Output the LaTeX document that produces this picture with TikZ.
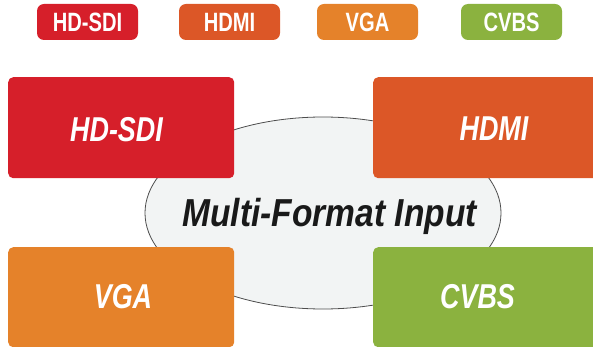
\documentclass[tikz,border=0pt]{standalone}
\usepackage{fontspec}
\usepackage{tikz}
\usepackage{xcolor}
\usetikzlibrary{shapes.geometric}
\setmainfont{Liberation Sans}
\newfontfamily\pillfont{Liberation Sans}[FakeStretch=0.76]
\newfontfamily\boxfont{Liberation Sans}[FakeStretch=0.78]
\newfontfamily\hubfont{Liberation Sans}[FakeStretch=0.86]
\definecolor{sdired}{HTML}{D61F2A}
\definecolor{hdmiorange}{HTML}{DC5727}
\definecolor{vgaorange}{HTML}{E5822A}
\definecolor{cvbsgreen}{HTML}{8BB23F}
\definecolor{hubfill}{HTML}{F2F4F4}
\definecolor{hubline}{HTML}{4D4D4D}
\begin{document}
\begin{tikzpicture}[x=1pt, y=-1pt,
  pill/.style={rounded corners=7pt, minimum width=101pt, minimum height=36pt, inner sep=0pt,
    text=white, font=\pillfont\bfseries\fontsize{26.5}{30}\selectfont},
  bigbox/.style={rounded corners=5pt, anchor=north west, inner sep=0pt},
  biglabel/.style={text=white, inner sep=0pt, font=\boxfont\bfseries\itshape\fontsize{34.5}{38}\selectfont}]
 \useasboundingbox (0,0) rectangle (593,347);
 % legend pills
 \node[pill, fill=sdired] (sdipill) at (87.5,22) {HD-SDI};
 \node[pill, fill=hdmiorange] (hdmipill) at (229.5,22) {HDMI};
 \node[pill, fill=vgaorange] (vgapill) at (367.5,22) {VGA};
 \node[pill, fill=cvbsgreen] (cvbspill) at (511.5,22) {CVBS};
 % hub
 \node[ellipse, draw=hubline, fill=hubfill, line width=0.8pt, minimum width=356pt, minimum height=192pt, inner sep=0pt] (hub) at (323,213) {};
 \node[anchor=base, text=black!90, inner sep=0pt, font=\hubfont\bfseries\itshape\fontsize{39}{42}\selectfont] (hublabel) at (329.5,226) {Multi-Format Input};
 % the four boxes
 \node[bigbox, fill=sdired, minimum width=226pt, minimum height=101pt] (sdibox) at (8,77) {};
 \node[bigbox, fill=hdmiorange, minimum width=242pt, minimum height=101pt] (hdmibox) at (373,77) {};
 \node[bigbox, fill=vgaorange, minimum width=226pt, minimum height=100pt] (vgabox) at (8,247) {};
 \node[bigbox, fill=cvbsgreen, minimum width=242pt, minimum height=100pt] (cvbsbox) at (373,247) {};
 \node[biglabel] (sdilabel) at (116.5,130) {HD-SDI};
 \node[biglabel] (hdmilabel) at (494,129) {HDMI};
 \node[biglabel] (vgalabel) at (123,297) {VGA};
 \node[biglabel] (cvbslabel) at (477.5,297) {CVBS};
\end{tikzpicture}
\end{document}
